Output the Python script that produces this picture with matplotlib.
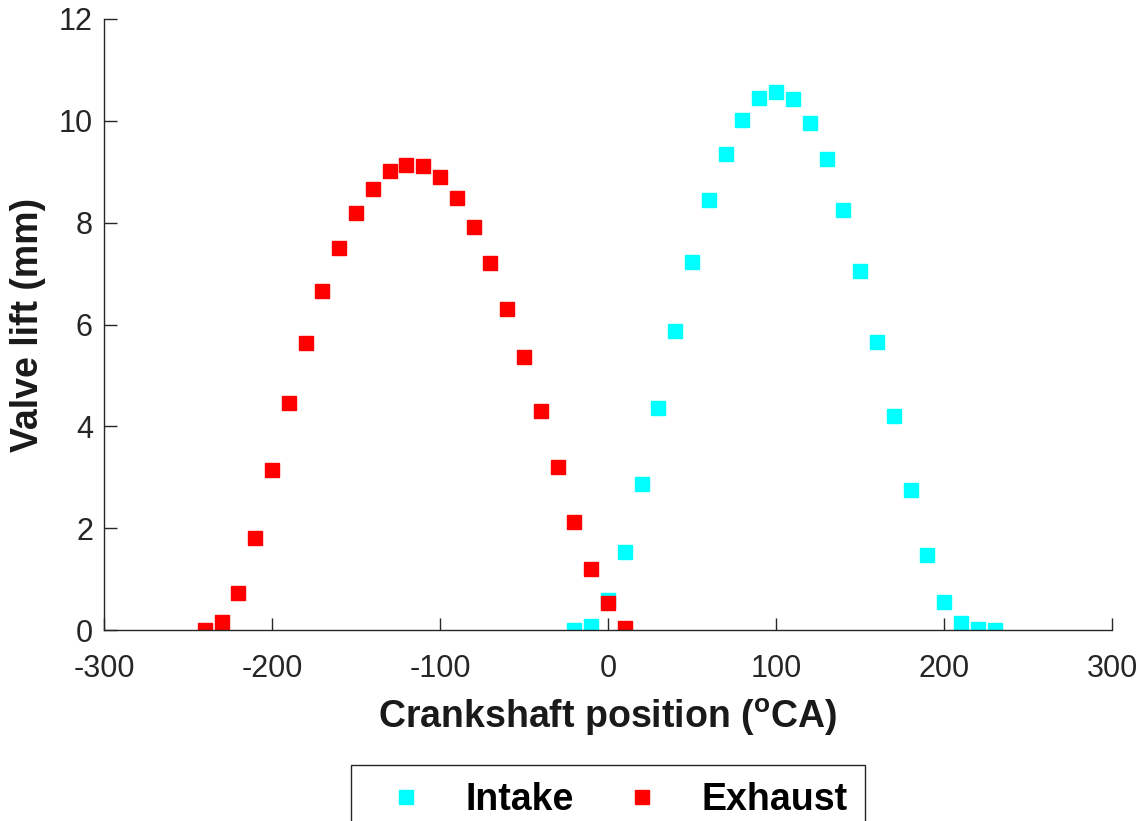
import matplotlib
matplotlib.use('Agg')
import matplotlib.pyplot as plt

# crank angle (deg CA) and valve lift (mm)
intake_ca = [-20, -10, 0, 10, 20, 30, 40, 50, 60, 70, 80, 90, 100,
             110, 120, 130, 140, 150, 160, 170, 180, 190, 200, 210, 220, 230]
intake_lift = [0.0, 0.08, 0.59, 1.53, 2.87, 4.36, 5.87, 7.23, 8.44, 9.35, 10.02, 10.44, 10.57,
               10.42, 9.96, 9.25, 8.25, 7.05, 5.66, 4.20, 2.75, 1.47, 0.56, 0.14, 0.03, 0.0]

exhaust_ca = [-240, -230, -220, -210, -200, -190, -180, -170, -160, -150, -140, -130, -120,
              -110, -100, -90, -80, -70, -60, -50, -40, -30, -20, -10, 0, 10]
exhaust_lift = [0.0, 0.15, 0.73, 1.81, 3.14, 4.46, 5.64, 6.66, 7.50, 8.19, 8.66, 9.01, 9.14,
                9.11, 8.89, 8.48, 7.92, 7.20, 6.30, 5.36, 4.30, 3.20, 2.12, 1.20, 0.53, 0.04]

xticks = [-300, -200, -100, 0, 100, 200, 300]
yticks = [0, 2, 4, 6, 8, 10, 12]

plt.rcParams['font.family'] = ['Liberation Sans', 'DejaVu Sans']
plt.rcParams['mathtext.fontset'] = 'custom'
plt.rcParams['mathtext.rm'] = 'Liberation Sans'
plt.rcParams['mathtext.bf'] = 'Liberation Sans:bold'

fig = plt.figure(figsize=(11.43, 8.21), dpi=100)
ax = fig.add_axes([0.091, 0.2326, 0.882, 0.7443])

ax.plot(intake_ca, intake_lift, 's', color='#00ffff', markersize=10, label='Intake')
ax.plot(exhaust_ca, exhaust_lift, 's', color='#ff0000', markersize=10, label='Exhaust')

ax.set_xlim(-300, 300)
ax.set_ylim(0, 12)
ax.set_xticks(xticks)
ax.set_yticks(yticks)
ax.set_xticklabels([str(t) for t in xticks])
ax.spines['top'].set_visible(False)
ax.spines['right'].set_visible(False)
for s in ['left', 'bottom']:
    ax.spines[s].set_color('#262626')
    ax.spines[s].set_linewidth(1.0)
ax.tick_params(direction='in', length=9, width=1.0, colors='#262626', labelsize=22)
ax.tick_params(axis='x', pad=17)
ax.tick_params(axis='y', pad=8)

ax.set_xlabel(r'Crankshaft position ($\mathbf{^{o}}$CA)', fontsize=27,
              fontweight='bold', color='#1a1a1a', labelpad=9)
ax.set_ylabel('Valve lift (mm)', fontsize=27, fontweight='bold',
              color='#1a1a1a', labelpad=9)

leg = fig.legend(loc='upper center', bbox_to_anchor=(0.532, 0.0682), ncol=2,
                 prop={'weight': 'bold', 'size': 27}, borderaxespad=0,
                 fancybox=False, edgecolor='#262626', framealpha=1,
                 handlelength=2.0, handletextpad=0.6, columnspacing=0.8,
                 borderpad=0.45, markerscale=1.0)
leg.get_frame().set_linewidth(1.0)

fig.savefig('out.png', dpi=100)
